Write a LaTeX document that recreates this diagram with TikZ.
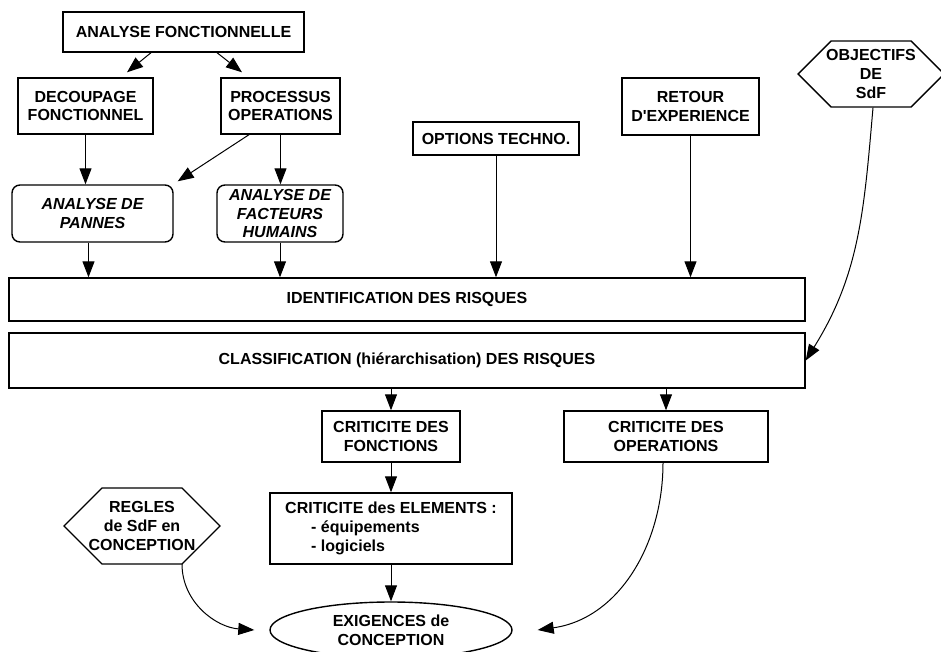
\documentclass[tikz,border=0pt]{standalone}
\usepackage{fontspec}
\setmainfont{Liberation Sans}
\usepackage{tikz}
\usetikzlibrary{arrows.meta,calc,positioning,shapes.geometric}

\tikzset{
  box/.style={draw,line width=0.7pt,inner sep=0pt,align=center,
    font=\bfseries\fontsize{8}{9.3}\selectfont},
  rbox/.style={box,rounded corners=4pt,
    font=\bfseries\itshape\fontsize{8}{9.3}\selectfont},
  hexa/.style={box,draw=none},
  hexline/.style={line width=0.7pt,line join=miter},
  flow/.style={-{Triangle[length=8pt,width=6pt]},line width=0.5pt},
}

\begin{document}
\begin{tikzpicture}[x=0.5pt,y=-0.5pt]
\useasboundingbox (0,0) rectangle (941,652);
% sources
\node[box,minimum width=120.5pt,minimum height=20pt] (af) at (183.5,32) {ANALYSE FONCTIONNELLE};
\node[box,minimum width=67.5pt,minimum height=28pt] (dec) at (85.5,106) {DECOUPAGE\\FONCTIONNEL};
\node[box,minimum width=59.5pt,minimum height=28pt] (proc) at (280.5,106) {PROCESSUS\\OPERATIONS};
\node[rbox,minimum width=80.5pt,minimum height=28.5pt] (pan) at (92.5,213.5) {ANALYSE DE\\PANNES};
\node[rbox,minimum width=63pt,minimum height=28.5pt] (fact) at (280,213.5) {ANALYSE DE\\FACTEURS\\HUMAINS};
\node[box,minimum width=83pt,minimum height=16.5pt] (opt) at (496,138.5) {OPTIONS TECHNO.};
\node[box,minimum width=68.5pt,minimum height=28.5pt] (ret) at (690.5,106.5) {RETOUR\\D\textquotesingle EXPERIENCE};
\node[hexa,minimum height=33pt] (obj) at (871,74) {OBJECTIFS\\DE\\SdF};
\draw[hexline] ([shift={(-20pt,16.5pt)}]obj.center) -- ++(40pt,0) -- ++(16.5pt,-16.5pt) -- ++(-16.5pt,-16.5pt)
  -- ++(-40pt,0) -- ++(-16.5pt,16.5pt) -- cycle;
% risques
\node[box,minimum width=398pt,minimum height=21.5pt] (ident) at (407,299.5) {IDENTIFICATION DES RISQUES};
\node[box,minimum width=398pt,minimum height=27.5pt] (class) at (407,360.5) {CLASSIFICATION (hiérarchisation) DES RISQUES};
% criticite
\node[box,minimum width=69pt,minimum height=25.5pt] (cfonc) at (391,436.5) {CRITICITE DES\\FONCTIONS};
\node[box,minimum width=102pt,minimum height=25.5pt] (cop) at (666,436.5) {CRITICITE DES\\OPERATIONS};
\node[box,align=left,minimum width=121pt,minimum height=35.5pt,font=\bfseries\fontsize{8}{9.5}\selectfont] (celem) at (391,528.5)
  {CRITICITE des ELEMENTS :\\\hspace*{13pt}- équipements\\\hspace*{13pt}- logiciels};
\node[hexa,minimum height=38pt] (regl) at (142,526) {REGLES\\de SdF en\\CONCEPTION};
\draw[hexline] ([shift={(-20pt,19pt)}]regl.center) -- ++(40pt,0) -- ++(19pt,-19pt) -- ++(-19pt,-19pt)
  -- ++(-40pt,0) -- ++(-19pt,19pt) -- cycle;
\node[box,ellipse,minimum width=121pt,minimum height=28pt] (exig) at (391,630) {EXIGENCES de\\CONCEPTION};

\draw[flow] ([xshift=-16.25pt]af.south) -- ([xshift=20.75pt,yshift=2.5pt]dec.north);
\draw[flow] ([xshift=16.75pt]af.south) -- ([xshift=-19.25pt,yshift=2.5pt]proc.north);
\draw[flow] (dec.south) -- (dec.south |- pan.north);
\draw[flow] ([xshift=-15.75pt]proc.south) -- ([xshift=2pt,yshift=1.5pt]pan.north east);
\draw[flow] (proc.south) -- (proc.south |- fact.north);
\draw[flow] ([xshift=-2pt]pan.south) -- ([xshift=-2pt]pan.south |- ident.north);
\draw[flow] (fact.south) -- (fact.south |- ident.north);
\draw[flow] (opt.south) -- (opt.south |- ident.north);
\draw[flow] (ret.south) -- (ret.south |- ident.north);
\draw[flow] ([xshift=1pt]obj.south) to[out=-95,in=58] (class.east);
\draw[flow] (class.south -| cfonc.north) -- (cfonc.north);
\draw[flow] (class.south -| cop.north) -- (cop.north);
\draw[flow] (cfonc.south) -- (celem.north);
\draw[flow] (celem.south) -- (exig.north);
\draw[flow] ([shift={(20pt,-19pt)}]regl.center) to[out=-90,in=176] ([xshift=-7.5pt]exig.west);
\draw[flow] ([xshift=-1.5pt]cop.south) to[out=-90,in=8] ([xshift=12.5pt]exig.east);
\end{tikzpicture}
\end{document}
